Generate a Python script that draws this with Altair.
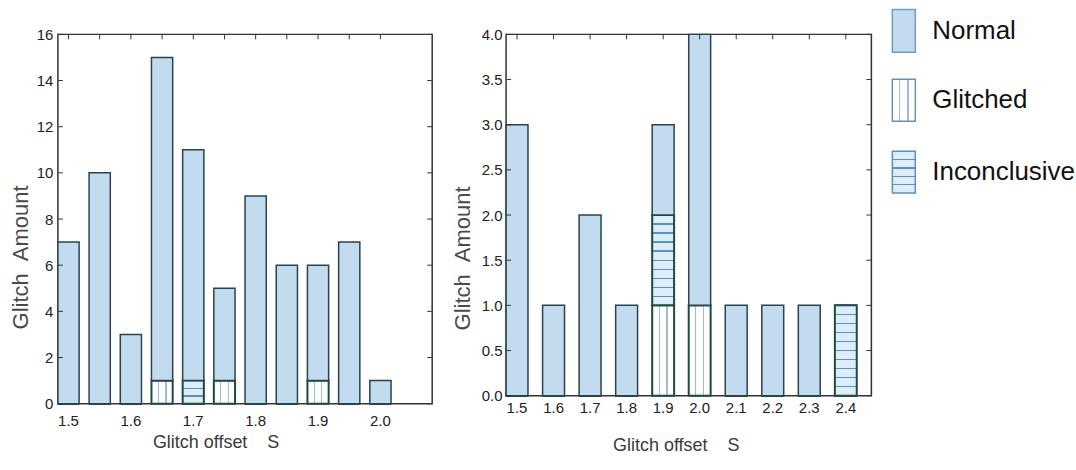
import altair as alt
import pandas as pd

# ---------------- data ----------------
series = ["Glitched", "Inconclusive", "Normal"]          # stack order, bottom -> top
legend_order = ["Normal", "Glitched", "Inconclusive"]

left_offsets = ["1.5", "1.55", "1.6", "1.65", "1.7", "1.75", "1.8", "1.85", "1.9", "1.95", "2.0"]
left_glitched = [0, 0, 0, 1, 0, 1, 0, 0, 1, 0, 0]
left_inconclusive = [0, 0, 0, 0, 1, 0, 0, 0, 0, 0, 0]
left_normal = [7, 10, 3, 14, 10, 4, 9, 6, 5, 7, 1]
left_xlabels = ["1.5", "1.6", "1.7", "1.8", "1.9", "2.0"]
left_yticks = [0, 2, 4, 6, 8, 10, 12, 14, 16]

right_offsets = ["1.5", "1.6", "1.7", "1.8", "1.9", "2.0", "2.1", "2.2", "2.3", "2.4"]
right_glitched = [0, 0, 0, 0, 1, 1, 0, 0, 0, 0]
right_inconclusive = [0, 0, 0, 0, 1, 0, 0, 0, 0, 1]
right_normal = [3, 1, 2, 1, 1, 3, 1, 1, 1, 0]
right_xlabels = right_offsets
right_yticks = [0.0, 0.5, 1.0, 1.5, 2.0, 2.5, 3.0, 3.5, 4.0]

x_title = "Glitch offset\u00a0\u00a0\u00a0\u00a0S"
y_title = "Glitch\u00a0\u00a0Amount"

# ---------------- styles ----------------
FONT = "Liberation Sans, Arial, sans-serif"
EDGE = "#2a4350"
TICK = "#333333"


def stripes(direction, n, color, bg, width):
    stops = [{"offset": 0, "color": bg}]
    for k in range(1, n):
        c = k / n
        a, b = c - width / 2, c + width / 2
        stops += [{"offset": a, "color": bg}, {"offset": a, "color": color},
                  {"offset": b, "color": color}, {"offset": b, "color": bg}]
    stops.append({"offset": 1, "color": bg})
    g = {"gradient": "linear", "x1": 0, "y1": 0, "x2": 0, "y2": 0, "stops": stops}
    if direction == "x":
        g["x2"] = 1
    else:
        g["y2"] = 1
    return g


NORMAL_FILL = "#c3dbee"
GLITCH_FILL = {"gradient": "linear", "x1": 0, "y1": 0, "x2": 1, "y2": 0, "stops": [
    {"offset": 0, "color": "#ffffff"}, {"offset": 0.29, "color": "#ffffff"},
    {"offset": 0.29, "color": "#9fbcd8"}, {"offset": 0.35, "color": "#9fbcd8"},
    {"offset": 0.35, "color": "#ffffff"}, {"offset": 0.65, "color": "#ffffff"},
    {"offset": 0.65, "color": "#9fbcd8"}, {"offset": 0.71, "color": "#9fbcd8"},
    {"offset": 0.71, "color": "#ffffff"}, {"offset": 1, "color": "#ffffff"}]}


def stack_table(offsets, g, i, n):
    rows = []
    for k, off in enumerate(offsets):
        base = 0
        for name, vals in zip(series, [g, i, n]):
            v = vals[k]
            rows.append(dict(offset=off, series=name, y0=base, y1=base + v))
            base += v
    return pd.DataFrame(rows)


def panel(offsets, g, i, n, xlabels, yticks, ymax, W, H, yfmt, pad_inner, pad_outer,
          xlabpad, ylabpad, brick_rows, xtitle_x, xtitle_y, ytitle_x, ytitle_y, extra=None):
    df = stack_table(offsets, g, i, n)
    xscale = alt.Scale(domain=offsets, paddingInner=pad_inner, paddingOuter=pad_outer, align=0)
    yscale = alt.Scale(domain=[0, ymax], nice=False, zero=True)
    xaxis = alt.Axis(values=xlabels, labelAngle=0, ticks=False, tickSize=0, domain=False, grid=False,
                     labelFont=FONT, labelFontSize=15, labelColor="#222", labelPadding=xlabpad,
                     title=x_title, titleFont=FONT, titleFontSize=18, titleFontWeight="normal",
                     titleColor="#3a3a3a", titleX=xtitle_x, titleY=xtitle_y, titleAlign="center",
                     titleBaseline="middle", titleAngle=0)
    yaxis = alt.Axis(values=yticks, format=yfmt, ticks=False, tickSize=0, domain=False, grid=False,
                     labelFont=FONT, labelFontSize=15, labelColor="#222", labelPadding=ylabpad,
                     title=y_title, titleFont=FONT, titleFontSize=22, titleFontWeight="normal",
                     titleColor="#4a4a4a", titleX=ytitle_x, titleY=ytitle_y, titleAlign="center",
                     titleBaseline="middle", titleAngle=270)
    X = alt.X("offset:N", scale=xscale, axis=xaxis, sort=None)
    fills = {
        "Normal": (NORMAL_FILL, EDGE, 1.5),
        "Glitched": (GLITCH_FILL, "#1f4a3c", 2),
        "Inconclusive": (stripes("y", brick_rows, "#5b8fc0", "#dcedf8", 0.012 * 10 / brick_rows * 1.3),
                         "#1f4a3c", 2),
    }
    layers = []
    for name in series:
        fill, stroke, sw = fills[name]
        layers.append(
            alt.Chart(df[df.series == name]).mark_bar(fill=fill, stroke=stroke, strokeWidth=sw)
            .encode(x=X, y=alt.Y("y0:Q", scale=yscale, axis=yaxis), y2="y1:Q")
        )
    ytick_df = pd.DataFrame({"v": yticks})
    Y = alt.Y("v:Q", scale=yscale, axis=yaxis)
    layers.append(alt.Chart(ytick_df).mark_rule(color=TICK, strokeWidth=1)
                  .encode(y=Y, x=alt.value(0), x2=alt.value(5)))
    layers.append(alt.Chart(ytick_df).mark_rule(color=TICK, strokeWidth=1)
                  .encode(y=Y, x=alt.value(W - 5), x2=alt.value(W)))
    xtick_df = pd.DataFrame({"offset": offsets})
    layers.append(alt.Chart(xtick_df).mark_rule(color=TICK, strokeWidth=1)
                  .encode(x=alt.X("offset:N", scale=xscale, axis=xaxis, sort=None, bandPosition=0.5),
                          y=alt.value(0), y2=alt.value(5)))
    if extra:
        layers += extra
    return alt.layer(*layers).properties(width=W, height=H)


# legend (placed to the right of the right panel; positions relative to its plot origin)
legend_layers = []
leg_boxes = {"Normal": (-25, 18), "Glitched": (45, 87), "Inconclusive": (117, 159)}
leg_fill = {
    "Normal": (NORMAL_FILL, "#6e9cc7"),
    "Glitched": (GLITCH_FILL, "#6e8fae"),
    "Inconclusive": (stripes("y", 5, "#5b8fc0", "#dcedf8", 0.035), "#5b8fc0"),
}
for name in legend_order:
    top, bot = leg_boxes[name]
    fill, stroke = leg_fill[name]
    ldf = pd.DataFrame({"name": [name]})
    legend_layers.append(alt.Chart(ldf).mark_rect(fill=fill, stroke=stroke, strokeWidth=1.5)
                         .encode(x=alt.value(387), x2=alt.value(410), y=alt.value(top), y2=alt.value(bot)))
    legend_layers.append(alt.Chart(ldf).mark_text(align="left", baseline="middle", font=FONT,
                                                  fontSize=26, color="#111")
                         .encode(x=alt.value(427), y=alt.value((top + bot) / 2), text="name:N"))

# invisible frame fixing the page bounds (1076 x 470)
frame = alt.Chart(pd.DataFrame({"a": [0]})).mark_rect(opacity=0).encode(
    x=alt.value(-57), x2=alt.value(1019), y=alt.value(-33), y2=alt.value(437))

left = panel(left_offsets, left_glitched, left_inconclusive, left_normal, left_xlabels, left_yticks,
             16, 375, 370, "d", 0.32, 0.66, 10, 5, 3, 158, 39, -37, 223, extra=[frame])
right = panel(right_offsets, right_glitched, right_inconclusive, right_normal, right_xlabels,
              right_yticks, 4, 366, 362, ".1f", 0.4, 0.2, 5, 4, 10, 170, 50, -44, 224,
              extra=legend_layers)

chart = alt.hconcat(left, right, spacing=74, bounds="flush").properties(
    padding=0, background="white"
).configure_view(stroke="#333333", strokeWidth=1.5)

chart.save("out.html", embed_options={"renderer": "svg", "actions": False})
